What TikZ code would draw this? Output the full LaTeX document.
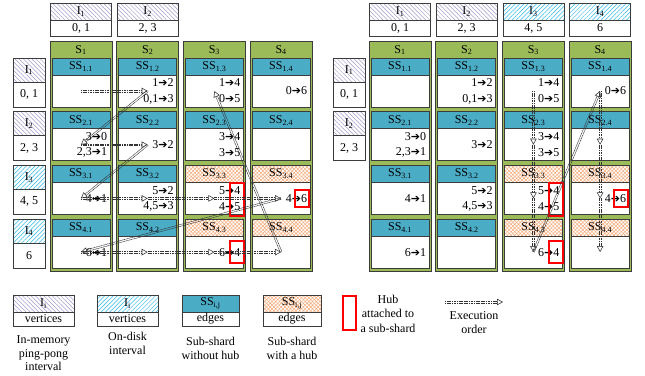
\documentclass[tikz,border=0pt]{standalone}
\usepackage{fontspec}
\setmainfont{Liberation Serif}
\newfontfamily\symfont{DejaVu Sans}
\usetikzlibrary{patterns.meta,arrows.meta,calc}
\newcommand\ra{{\symfont\fontsize{11}{11}\selectfont ➔}}

\definecolor{shardgreen}{RGB}{155,187,89}
\definecolor{sscyan}{RGB}{75,172,198}
\definecolor{memhatch}{RGB}{165,155,205}
\definecolor{diskhatch}{RGB}{50,185,235}
\definecolor{hubhatch}{RGB}{245,170,120}
\definecolor{boxline}{RGB}{60,60,60}

% hollow "execution order" arrow: two thin dotted rails and an open head
\newcommand\execarrow[2]{%
  \draw[execrail] ($(#1)!0.9pt!90:(#2)$) -- ($(#2)!0.9pt!-90:(#1)$);
  \draw[execrail] ($(#1)!0.9pt!-90:(#2)$) -- ($(#2)!0.9pt!90:(#1)$);
  \draw[exechead] ($(#2)!6pt!(#1)$) -- (#2);
}

\begin{document}
\begin{tikzpicture}[x=1pt,y=-1pt,
  every node/.style={inner sep=0pt, outer sep=0pt, font=\fontsize{12}{14}\selectfont},
  cellbox/.style={draw=boxline, line width=0.8pt, rectangle},
  shard/.style={cellbox, fill=shardgreen, minimum width=62pt, minimum height=230pt},
  head0/.style={cellbox, fill=sscyan, minimum width=58pt, minimum height=17pt},
  head1/.style={cellbox, preaction={fill=white},
    pattern={Hatch[angle=45,distance=2.6pt,line width=0.5pt]}, pattern color=hubhatch,
    minimum width=58pt, minimum height=17pt},
  ssbody/.style={cellbox, fill=white, minimum width=58pt, minimum height=32pt},
  memI/.style={cellbox, preaction={fill=white},
    pattern={Lines[angle=-45,distance=3pt,line width=0.5pt]}, pattern color=memhatch},
  diskI/.style={cellbox, preaction={fill=white},
    pattern={Lines[angle=45,distance=3pt,line width=0.5pt]}, pattern color=diskhatch},
  valbox/.style={cellbox, fill=white},
  hub/.style={draw=red, line width=1.6pt, rectangle, minimum width=14pt},
  elabel/.style={anchor=east},
  execrail/.style={draw=black!80, line width=0.5pt, dash pattern=on 1.2pt off 0.5pt,
    shorten >=5.5pt},
  exechead/.style={draw=black!80, line width=0.5pt,
    -{Triangle[fill=white, length=6pt, width=6.5pt, line width=0.55pt]}}
]
\useasboundingbox (0,0) rectangle (645,375);

% ---------- two panels: left (ping-pong) and right (column order) ----------
\foreach \p/\ox in {L/0,R/319}{
  \foreach \j in {1,...,4}{
    \pgfmathsetmacro\cx{\ox+81+66.7*(\j-1)}
    \node[shard] (\p-S\j) at (\cx,156) {};
    \node (\p-Sl\j) at (\cx,50) {S\textsubscript{\j}};
    \foreach \i in {1,...,4}{
      \pgfmathsetmacro\ty{58+53.7*(\i-1)}
      \pgfmathtruncatemacro\hb{and(\i>2,\j>2)}
      \node[head\hb] (\p-h-\i-\j) at (\cx,\ty+8.5) {SS\textsubscript{\i.\j}};
      \node[ssbody] (\p-b-\i-\j) at (\cx,\ty+33) {};
      \coordinate (\p-c-\i-\j) at (\cx,\ty+33);
    }
  }
  % sub-shard edges, two per sub-shard
  \foreach \i/\j/\ta/\tb in {1/2/{1\ra2}/{0,1\ra3}, 1/3/{1\ra4}/{0\ra5},
      2/1/{3\ra0}/{2,3\ra1}, 2/3/{3\ra4}/{3\ra5},
      3/2/{5\ra2}/{4,5\ra3}, 3/3/{5\ra4}/{4\ra5}}{
    \node[elabel] (\p-ea-\i-\j) at ([xshift=-3pt,yshift=8pt]\p-b-\i-\j.east) {\ta};
    \node[elabel] (\p-eb-\i-\j) at ([xshift=-3pt,yshift=-8pt]\p-b-\i-\j.east) {\tb};
  }
  % sub-shard edges, one per sub-shard
  \foreach \i/\j/\ta in {1/4/{0\ra6}, 2/2/{3\ra2}, 3/1/{4\ra1},
      3/4/{4\ra6}, 4/1/{6\ra1}, 4/3/{6\ra4}}{
    \node[elabel] (\p-ea-\i-\j) at ([xshift=-3pt]\p-b-\i-\j.east) {\ta};
  }
  % hubs attached to sub-shards
  \node[hub, minimum height=33pt] (\p-hub33) at (\ox+237,199.5) {};
  \node[hub, minimum height=17pt] (\p-hub34) at (\ox+302,198.5) {};
  \node[hub, minimum height=22pt] (\p-hub43) at (\ox+237,252) {};
}

% ---------- vertex intervals above the shards ----------
\foreach \p/\ox/\k/\kind/\v in {L/0/1/memI/{0, 1}, L/0/2/memI/{2, 3},
    R/319/1/memI/{0, 1}, R/319/2/memI/{2, 3}, R/319/3/diskI/{4, 5}, R/319/4/diskI/{6}}{
  \pgfmathsetmacro\cx{\ox+81+66.7*(\k-1)}
  \node[\kind, minimum width=61pt, minimum height=17pt] (\p-Ih\k) at (\cx,11.5) {I\textsubscript{\k}};
  \node[valbox, minimum width=61pt, minimum height=16pt] (\p-Iv\k) at (\cx,28) {\v};
}

% ---------- vertex intervals left of the shards ----------
\foreach \p/\ox/\k/\kind/\v in {L/0/1/memI/{0, 1}, L/0/2/memI/{2, 3},
    L/0/3/diskI/{4, 5}, L/0/4/diskI/{6}, R/320/1/memI/{0, 1}, R/320/2/memI/{2, 3}}{
  \pgfmathsetmacro\ty{58+53.7*(\k-1)}
  \node[\kind, minimum width=32pt, minimum height=24pt] (\p-Jh\k) at (\ox+29,\ty+12) {I\textsubscript{\k}};
  \node[valbox, minimum width=32pt, minimum height=25pt] (\p-Jv\k) at (\ox+29,\ty+36.5) {\v};
}

% ---------- execution order ----------
\foreach \a/\b in {L-c-1-1/L-c-1-2, L-c-1-2/L-c-2-1, L-c-2-1/L-c-2-2, L-c-2-2/L-c-3-1,
    L-c-3-1/L-c-3-2, L-c-3-2/L-c-3-3, L-c-3-3/L-c-3-4, L-c-3-4/L-c-4-1,
    L-c-4-1/L-c-4-2, L-c-4-2/L-c-4-3, L-c-4-3/L-c-4-4, L-c-4-4/L-c-1-3,
    R-c-1-3/R-c-2-3, R-c-2-3/R-c-3-3, R-c-3-3/R-c-4-3, R-c-4-3/R-c-1-4,
    R-c-1-4/R-c-2-4, R-c-2-4/R-c-3-4, R-c-3-4/R-c-4-4}{
  \execarrow{\a}{\b}
}

% ---------- legend ----------
\node[memI, minimum width=61pt, minimum height=17pt] (g1h) at (43.5,303.5) {I\textsubscript{i}};
\node[valbox, minimum width=61pt, minimum height=14pt] (g1b) at (43.5,319) {vertices};
\node[align=center, font=\fontsize{12}{13.5}\selectfont] (g1t) at (43.5,353.5) {In-memory\\ping-pong\\interval};

\node[diskI, minimum width=61pt, minimum height=17pt] (g2h) at (127.5,303.5) {I\textsubscript{i}};
\node[valbox, minimum width=61pt, minimum height=14pt] (g2b) at (127.5,319) {vertices};
\node[align=center, font=\fontsize{12}{14.5}\selectfont] (g2t) at (127.5,343.5) {On-disk\\interval};

\node[head0, minimum width=57pt] (g3h) at (210.5,303.5) {SS\textsubscript{i,j}};
\node[valbox, minimum width=57pt, minimum height=14pt] (g3b) at (210.5,319) {edges};
\node[align=center, font=\fontsize{12}{14}\selectfont] (g3t) at (210.5,348) {Sub-shard\\without hub};

\node[head1, minimum width=58pt] (g4h) at (292,303.5) {SS\textsubscript{i,j}};
\node[valbox, minimum width=58pt, minimum height=14pt] (g4b) at (292,319) {edges};
\node[align=center, font=\fontsize{12}{14}\selectfont] (g4t) at (292,348) {Sub-shard\\with a hub};

\node[hub, minimum width=13pt, minimum height=34pt] (g5h) at (349.5,313) {};
\node[align=center, font=\fontsize{12}{14.5}\selectfont] (g5t) at (388,313.5) {Hub\\attached to\\a sub-shard};

\coordinate (g6a) at (445,302);
\coordinate (g6b) at (503,302);
\execarrow{g6a}{g6b}
\node[align=center, font=\fontsize{12}{14}\selectfont] (g6t) at (474,323) {Execution\\order};
\end{tikzpicture}
\end{document}
